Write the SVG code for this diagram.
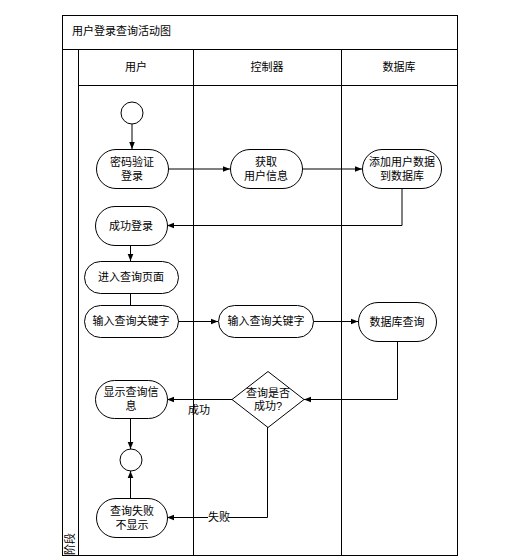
<svg xmlns="http://www.w3.org/2000/svg" width="513" height="559" viewBox="0 0 513 559">
<style>
text{font-family:"Liberation Sans","Noto Sans CJK SC",sans-serif;font-size:11px;fill:#000;}
.c{text-anchor:middle;}
.frame{fill:none;stroke:#000;stroke-width:1;}
.node{fill:#fff;stroke:#000;stroke-width:1;}
.edge{fill:none;stroke:#000;stroke-width:1;}
</style>
<defs>
<marker id="arr" viewBox="0 0 10 10" refX="10" refY="5" markerWidth="7" markerHeight="7" orient="auto" markerUnits="userSpaceOnUse">
<path d="M0,1 L10,5 L0,9 Z" fill="#000"/>
</marker>
</defs>
<rect x="0" y="0" width="513" height="559" fill="#fff"/>
<g id="pool">
<rect class="frame" x="62.5" y="15.5" width="395" height="540"/>
<line class="frame" x1="62.5" y1="49.5" x2="457.5" y2="49.5"/>
<text x="72" y="35">用户登录查询活动图</text>
<line class="frame" x1="78.5" y1="49.5" x2="78.5" y2="555.5"/>
<line class="frame" x1="78.5" y1="85.5" x2="457.5" y2="85.5"/>
<line class="frame" x1="193.5" y1="49.5" x2="193.5" y2="555.5"/>
<line class="frame" x1="341.5" y1="49.5" x2="341.5" y2="555.5"/>
<text class="c" x="136" y="71">用户</text>
<text class="c" x="267" y="71">控制器</text>
<text class="c" x="399" y="71">数据库</text>
<text x="74" y="555" font-size="9" transform="rotate(-90 74 555)">阶段</text>
</g>
<g id="connectors">
<line class="edge" x1="132" y1="124" x2="132" y2="149" marker-end="url(#arr)"/>
<line class="edge" x1="168" y1="169" x2="230" y2="169" marker-end="url(#arr)"/>
<line class="edge" x1="302" y1="169" x2="362" y2="169" marker-end="url(#arr)"/>
<polyline class="edge" points="402,188 402,225.5 167,225.5" marker-end="url(#arr)"/>
<line class="edge" x1="130.5" y1="245" x2="130.5" y2="261" marker-end="url(#arr)"/>
<line class="edge" x1="130.5" y1="293" x2="130.5" y2="305"/>
<line class="edge" x1="178" y1="321.5" x2="218" y2="321.5" marker-end="url(#arr)"/>
<line class="edge" x1="313" y1="321.5" x2="358" y2="321.5" marker-end="url(#arr)"/>
<polyline class="edge" points="397.5,342 397.5,399.5 304,399.5" marker-end="url(#arr)"/>
<line class="edge" x1="232" y1="399.5" x2="167" y2="399.5" marker-end="url(#arr)"/>
<text x="188" y="414" fill="#333">成功</text>
<line class="edge" x1="130.5" y1="418" x2="130.5" y2="449" marker-end="url(#arr)"/>
<polyline class="edge" points="267.5,427 267.5,517.5 167,517.5" marker-end="url(#arr)"/>
<rect x="208" y="512" width="20" height="11" fill="#fff"/>
<text x="208" y="521" font-size="9">失败</text>
<line class="edge" x1="130.5" y1="498" x2="130.5" y2="471" marker-end="url(#arr)"/>
</g>
<g id="start">
<circle class="node" cx="132" cy="113" r="11"/>
</g>
<g id="n_pwd">
<rect class="node" x="96.5" y="149.5" width="72" height="39" rx="19.5"/>
<text class="c" x="132" y="166">密码验证</text>
<text class="c" x="132" y="180">登录</text>
</g>
<g id="n_get">
<rect class="node" x="230.5" y="149.5" width="72" height="39" rx="19.5"/>
<text class="c" x="266" y="166">获取</text>
<text class="c" x="266" y="180">用户信息</text>
</g>
<g id="n_add">
<rect class="node" x="362.5" y="149.5" width="79" height="39" rx="19.5"/>
<text class="c" x="402" y="166">添加用户数据</text>
<text class="c" x="402" y="180">到数据库</text>
</g>
<g id="n_ok">
<rect class="node" x="95.5" y="206.5" width="72" height="39" rx="19.5"/>
<text class="c" x="131" y="230">成功登录</text>
</g>
<g id="n_enter">
<rect class="node" x="84.5" y="261.5" width="94" height="32" rx="16"/>
<text class="c" x="131" y="281">进入查询页面</text>
</g>
<g id="n_input_user">
<rect class="node" x="84.5" y="305.5" width="94" height="32" rx="16"/>
<text class="c" x="131" y="325">输入查询关键字</text>
</g>
<g id="n_input_ctrl">
<rect class="node" x="218.5" y="305.5" width="95" height="32" rx="16"/>
<text class="c" x="266" y="325">输入查询关键字</text>
</g>
<g id="n_dbq">
<rect class="node" x="358.5" y="302.5" width="78" height="39" rx="19.5"/>
<text class="c" x="397" y="326">数据库查询</text>
</g>
<g id="n_show">
<rect class="node" x="95.5" y="380.5" width="72" height="38" rx="19"/>
<text class="c" x="131" y="396">显示查询信</text>
<text class="c" x="131" y="410">息</text>
</g>
<g id="n_dec">
<polygon class="node" points="268,371.5 304,399.5 268,427.5 232,399.5"/>
<text class="c" x="268" y="397">查询是否</text>
<text class="c" x="268" y="410">成功?</text>
</g>
<g id="end">
<circle class="node" cx="131" cy="460" r="11"/>
</g>
<g id="n_fail">
<rect class="node" x="96.5" y="498.5" width="71" height="39" rx="19.5"/>
<text class="c" x="132" y="515">查询失败</text>
<text class="c" x="132" y="529">不显示</text>
</g>
</svg>
